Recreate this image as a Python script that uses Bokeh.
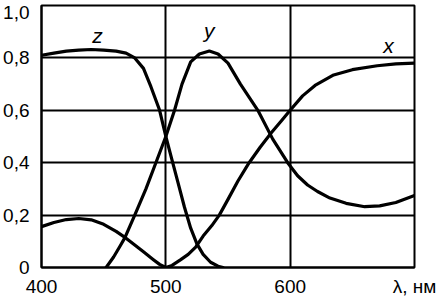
from bokeh.plotting import figure
from bokeh.models import Range1d, FixedTicker
from bokeh.core.properties import value
from bokeh.embed import file_html
from bokeh.resources import INLINE

# wavelength (nm) and values
wl_x = [400, 410, 420, 430, 440, 450, 460, 468, 475, 482, 490, 495, 500, 505, 512, 518, 524, 530,
        537, 543, 550, 558, 567, 576, 585, 593, 600, 610, 620, 635, 650, 670, 685, 700]
x_val = [0.156, 0.172, 0.183, 0.187, 0.182, 0.165, 0.138, 0.112, 0.086, 0.06, 0.03, 0.012, 0.0, 0.008,
         0.03, 0.05, 0.078, 0.12, 0.16, 0.2, 0.26, 0.33, 0.4, 0.46, 0.515, 0.56, 0.6, 0.655, 0.695,
         0.735, 0.755, 0.77, 0.777, 0.78]

wl_y = [452, 458, 463, 467, 475, 484, 492, 500, 507, 513, 520, 527, 535, 542, 550, 560, 574, 586,
        598, 606, 614, 622, 632, 645, 660, 672, 685, 700]
y_val = [0.0, 0.04, 0.08, 0.113, 0.2, 0.3, 0.4, 0.5, 0.6, 0.7, 0.785, 0.815, 0.826, 0.815, 0.78,
         0.7, 0.6, 0.49, 0.4, 0.35, 0.315, 0.29, 0.265, 0.245, 0.232, 0.235, 0.248, 0.275]

wl_z = [400, 410, 420, 430, 440, 450, 460, 468, 475, 482, 488, 495, 500, 505, 510, 515, 520, 525,
        530, 536, 542, 546]
z_val = [0.81, 0.818, 0.826, 0.83, 0.832, 0.83, 0.826, 0.818, 0.8, 0.76, 0.69, 0.6, 0.5, 0.41,
         0.32, 0.23, 0.15, 0.09, 0.05, 0.02, 0.005, 0.0]

curve_names = ["z", "y", "x"]
name_wl = [445, 535, 679]
name_val = [0.885, 0.905, 0.847]

x_ticks = [400, 500, 600, 700]
x_tick_labels = ["400", "500", "600", "λ, нм"]
y_ticks = [0, 0.2, 0.4, 0.6, 0.8, 1.0]
y_tick_labels = ["0", "0,2", "0,4", "0,6", "0,8", "1,0"]

FONT = "Liberation Sans"
TICK_SIZE = "19px"

p = figure(width=447, height=301, output_backend="svg", toolbar_location=None,
           x_range=Range1d(400, 700), y_range=Range1d(0, 1.0),
           min_border_left=39, min_border_right=33, min_border_top=5, min_border_bottom=34)
p.background_fill_color = "white"
p.border_fill_color = "white"
p.outline_line_color = "black"
p.outline_line_width = 2

# the label of the top tick sits a little lower, as in the picture, so it stays on the page
label_pos = list(y_ticks)
label_pos[-1] = y_ticks[-1] - 0.025

p.xaxis.ticker = FixedTicker(ticks=x_ticks)
p.yaxis.ticker = FixedTicker(ticks=label_pos)
p.xaxis.major_label_overrides = {t: l for t, l in zip(x_ticks, x_tick_labels)}
p.yaxis.major_label_overrides = {t: l for t, l in zip(label_pos, y_tick_labels)}
for ax in (p.xaxis, p.yaxis):
    ax.axis_line_color = "black"
    ax.axis_line_width = 2
    ax.major_tick_out = 0
    ax.major_tick_in = 0
    ax.minor_tick_out = 0
    ax.minor_tick_in = 0
    ax.major_label_text_font = FONT
    ax.major_label_text_font_size = TICK_SIZE
    ax.major_label_text_color = "black"
p.xaxis.major_label_standoff = 8
p.yaxis.major_label_standoff = 12

p.xgrid.ticker = FixedTicker(ticks=x_ticks)
p.ygrid.ticker = FixedTicker(ticks=y_ticks)
p.xgrid.grid_line_color = "black"
p.ygrid.grid_line_color = "black"
p.xgrid.grid_line_width = 2
p.ygrid.grid_line_width = 2
p.xgrid.grid_line_alpha = 1
p.ygrid.grid_line_alpha = 1

for wl, vals in ((wl_x, x_val), (wl_y, y_val), (wl_z, z_val)):
    p.line(wl, vals, line_color="black", line_width=3.2, line_join="round", line_cap="round")

p.text(x=name_wl, y=name_val, text=curve_names, text_font=value(FONT), text_font_style="italic",
       text_font_size="21px", text_color="black", text_align="center", text_baseline="middle")

open("out.html", "w").write(file_html(p, INLINE))
